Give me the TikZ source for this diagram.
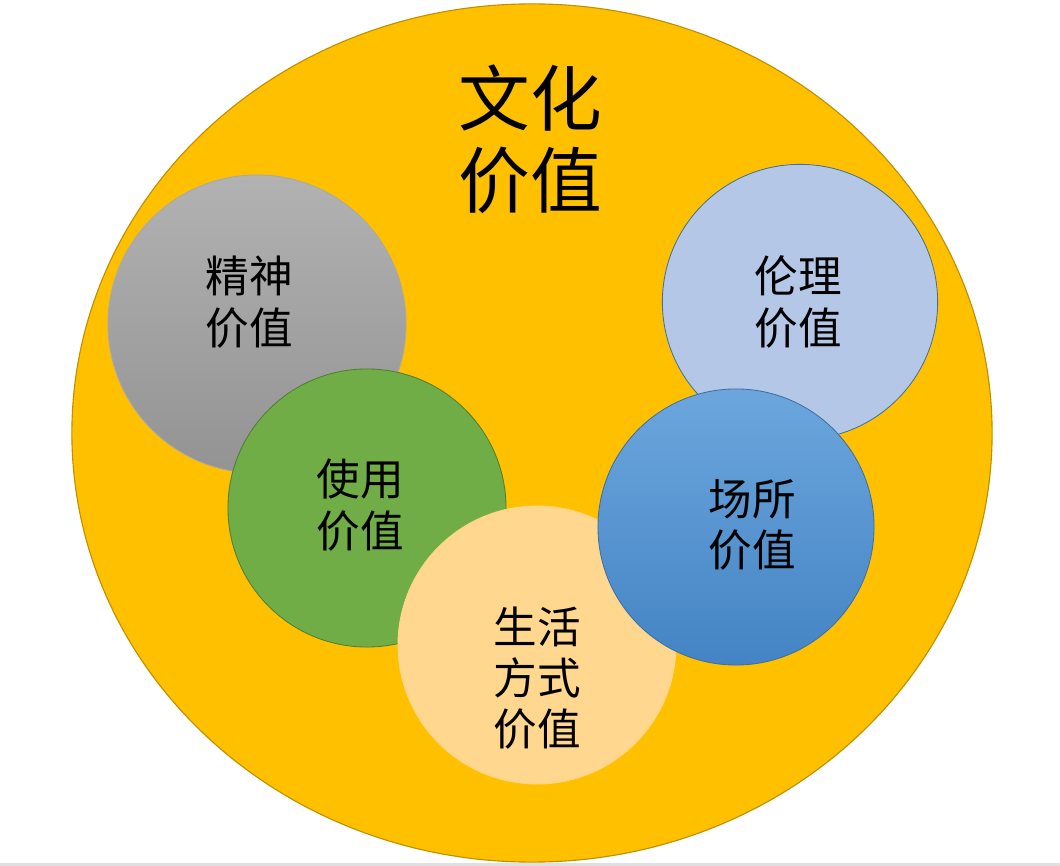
\documentclass[tikz,border=0pt]{standalone}
\usepackage{fontspec}
\newfontfamily\cjk{Noto Sans CJK SC}
\usepackage{xcolor}
\usepackage{tikz}
\usetikzlibrary{shapes.geometric}

\definecolor{gold}{HTML}{FFC000}
\definecolor{golddark}{HTML}{BF9000}
\definecolor{greytop}{HTML}{B2B2B2}
\definecolor{greybot}{HTML}{939393}
\definecolor{leaf}{HTML}{70AD47}
\definecolor{leafdark}{HTML}{507E32}
\definecolor{paleblue}{HTML}{B4C7E7}
\definecolor{steel}{HTML}{41719C}
\definecolor{bluetop}{HTML}{6CA6DD}
\definecolor{bluebot}{HTML}{4484C4}
\definecolor{peach}{HTML}{FFD78F}

\begin{document}
\begin{tikzpicture}[
  x=0.025cm, y=-0.025cm,
  valcircle/.style={circle, inner sep=0pt, minimum size=6.95cm, line width=0.6pt},
  vallbl/.style={align=center, font=\cjk\fontsize{31}{36.5}\selectfont, inner sep=0pt},
  titlelbl/.style={align=center, font=\cjk\fontsize{51}{58.5}\selectfont, inner sep=0pt}
]
\useasboundingbox (0,0) rectangle (1060,866);
\fill[gray!25] (0,863) rectangle (1060,866);

% outer value
\node[ellipse, fill=gold, draw=golddark, line width=0.8pt, inner sep=0pt,
  minimum width=23cm, minimum height=21.45cm] (culture) at (532,433) {};
\node[titlelbl] (culturelbl) at (530,139) {文化\\价值};

% left side
\node[valcircle, minimum size=7.45cm, top color=greytop, bottom color=greybot,
  draw=greybot!80] (spirit) at (257,324) {};
\node[vallbl] (spiritlbl) at (249,302) {精神\\价值};

\node[valcircle, fill=leaf, draw=leafdark] (use) at (367,508) {};
\node[vallbl] (uselbl) at (360,505) {使用\\价值};

% right side
\node[valcircle, minimum size=6.88cm, fill=paleblue, draw=steel] (ethic) at (800,302) {};
\node[vallbl] (ethiclbl) at (798,302) {伦理\\价值};

% bottom
\node[valcircle, fill=peach, draw=peach!90!gold] (life) at (537,645) {};
\node[vallbl] (lifelbl) at (537,678) {生活\\方式\\价值};

\node[valcircle, minimum size=6.9cm, top color=bluetop, bottom color=bluebot,
  draw=bluebot!85!black] (place) at (736,527) {};
\node[vallbl] (placelbl) at (752,525) {场所\\价值};

\end{tikzpicture}
\end{document}
